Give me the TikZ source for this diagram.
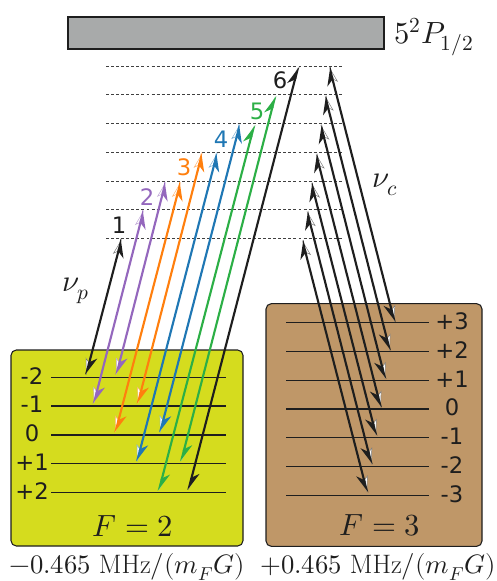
\documentclass[tikz,border=0pt]{standalone}
\usepackage{amsmath}
\usepackage{fontspec}
\usepackage{unicode-math}
\setsansfont{DejaVu Sans}
\usetikzlibrary{arrows.meta}
\definecolor{topgrey}{RGB}{168,170,170}
\definecolor{lowyellow}{RGB}{213,220,30}
\definecolor{lowbrown}{RGB}{191,151,104}
\definecolor{inkblack}{RGB}{30,30,30}
\definecolor{combo2}{RGB}{148,103,189}
\definecolor{combo3}{RGB}{255,127,14}
\definecolor{combo4}{RGB}{31,119,180}
\definecolor{combo5}{RGB}{44,175,70}
\tikzset{
  hfsbox/.style={draw=inkblack,line width=0.8pt,rounded corners=4pt},
  sublevel/.style={draw=inkblack,line width=0.8pt},
  virtlevel/.style={draw=black!75,line width=0.6pt,dash pattern=on 2.2pt off 1.6pt},
  mlabel/.style={font=\sffamily\fontsize{17}{17}\selectfont,text=inkblack,inner sep=0pt},
  biglabel/.style={font=\fontsize{23}{23}\selectfont,text=inkblack,inner sep=0pt},
  halflabel/.style={font=\fontsize{20}{20}\selectfont,text=inkblack,inner sep=0pt},
  numlabel/.style={font=\sffamily\fontsize{17}{17}\selectfont,inner sep=0pt},
  darkL/.tip={Stealth[harpoon,length=12pt,width=10pt,inset=4pt]},
  darkR/.tip={Stealth[harpoon,swap,length=12pt,width=10pt,inset=4pt]},
  paleL/.tip={Stealth[harpoon,length=12pt,width=7pt,inset=3pt,fill=white,line width=0.35pt]},
  paleR/.tip={Stealth[harpoon,swap,length=12pt,width=7pt,inset=3pt,fill=white,line width=0.35pt]},
}
% one transition: colour, lower end, upper end, then the dark barb side at each end
\newcommand{\transition}[5]{
  \draw[draw=#1!60,line width=0.3pt,arrows={pale#5-pale#4}] (#2) -- (#3);
  \draw[draw=#1,line width=1.6pt,arrows={dark#4-dark#5}] (#2) -- (#3);
}
\begin{document}
\begin{tikzpicture}[x=0.75pt,y=-0.75pt]
  \useasboundingbox (0,0) rectangle (496,581);
  % boxes
  \node[draw=inkblack,line width=1pt,fill=topgrey,minimum width=237pt,minimum height=24pt,inner sep=0pt] (excited) at (226,33) {};
  \node[hfsbox,fill=lowyellow,minimum width=174pt,minimum height=147pt,inner sep=0pt] (lowF) at (127,448) {};
  \node[hfsbox,fill=lowbrown,minimum width=162pt,minimum height=182pt,inner sep=0pt] (highF) at (374,425) {};
  \node[biglabel,anchor=west] (exclabel) at (394,37) {$5^2P_{1/2}$};
  \node[biglabel] (lowFlabel) at (133,526) {$F=2$};
  \node[biglabel] (highFlabel) at (380,525) {$F=3$};
  \node[halflabel] (lowshift) at (127,567) {$-0.465\ \mathrm{MHz}/(m_FG)$};
  \node[halflabel] (highshift) at (378,567) {$+0.465\ \mathrm{MHz}/(m_FG)$};
  \node[biglabel] (nup) at (76,291) {$\nu_p$};
  \node[biglabel] (nuc) at (385,185) {$\nu_c$};
  % virtual levels
  \foreach \i/\y in {1/238.3,2/209.7,3/181,4/152,5/123.3,6/94.7,7/66} {
    \coordinate (vl\i) at (106,\y);
    \coordinate (vr\i) at (344,\y);
    \draw[virtlevel] (vl\i) -- (vr\i);
  }
  % ground levels, F=2
  \foreach \n/\t/\y in {a/-2/377.7,b/-1/406,c/0/435,d/+1/463.7,e/+2/492.3} {
    \coordinate (gl\n) at (51,\y);
    \coordinate (gr\n) at (226,\y);
    \draw[sublevel] (gl\n) -- (gr\n);
    \node[mlabel] (mg\n) at (32,\y-1.5) {\t};
  }
  % ground levels, F=3
  \foreach \n/\t/\y in {a/+3/322.7,b/+2/351.5,c/+1/380.3,d/0/409,e/-1/437.7,f/-2/466.7,g/-3/495.3} {
    \coordinate (hl\n) at (286,\y);
    \coordinate (hr\n) at (429,\y);
    \draw[sublevel] (hl\n) -- (hr\n);
    \node[mlabel] (mh\n) at (452,\y-1.5) {\t};
  }
  % probe transitions
  \foreach \n/\col/\xa/\ya/\xb/\yb/\sa/\sb in {
    pa/inkblack/86/375/121.7/238.7/L/R,
    pb/combo2/93.7/404/143.7/210/L/R,
    pc/combo2/116.3/375/165.7/181.7/L/R,
    pd/combo3/115.3/432.7/180.7/181.7/L/R,
    pe/combo3/137.7/404/202.3/152.7/L/R,
    pf/combo4/137/461.7/217.3/152.7/L/R,
    pg/combo4/160/432.7/240/124/L/R,
    ph/combo5/158.7/491/254.3/125/L/L,
    pi/combo5/181/461.7/275.3/96/L/L,
    pj/inkblack/188.3/490.3/298.3/66.7/L/L} {
    \coordinate (\n low) at (\xa,\ya);
    \coordinate (\n up) at (\xb,\yb);
    \transition{\col}{\n low}{\n up}{\sa}{\sb}
  }
  % coupling transitions
  \foreach \n/\xa/\ya/\xb/\yb in {
    ca/394.7/322.3/329.3/66.7,
    cb/390/351/325/95.5,
    cc/385.3/379.3/320.7/124.5,
    cd/381/408/316/153.5,
    ce/376.3/436/311.3/182.5,
    cf/371.7/464.7/307/211,
    cg/367.3/492.7/302.3/240} {
    \coordinate (\n low) at (\xa,\ya);
    \coordinate (\n up) at (\xb,\yb);
    \transition{inkblack}{\n low}{\n up}{R}{L}
  }
  % combination numbers
  \node[numlabel,text=inkblack] (num1) at (119,225) {1};
  \node[numlabel,text=combo2] (num2) at (147,197) {2};
  \node[numlabel,text=combo3] (num3) at (184,167) {3};
  \node[numlabel,text=combo4] (num4) at (221,139) {4};
  \node[numlabel,text=combo5] (num5) at (257,111) {5};
  \node[numlabel,text=inkblack] (num6) at (280,80) {6};
\end{tikzpicture}
\end{document}
